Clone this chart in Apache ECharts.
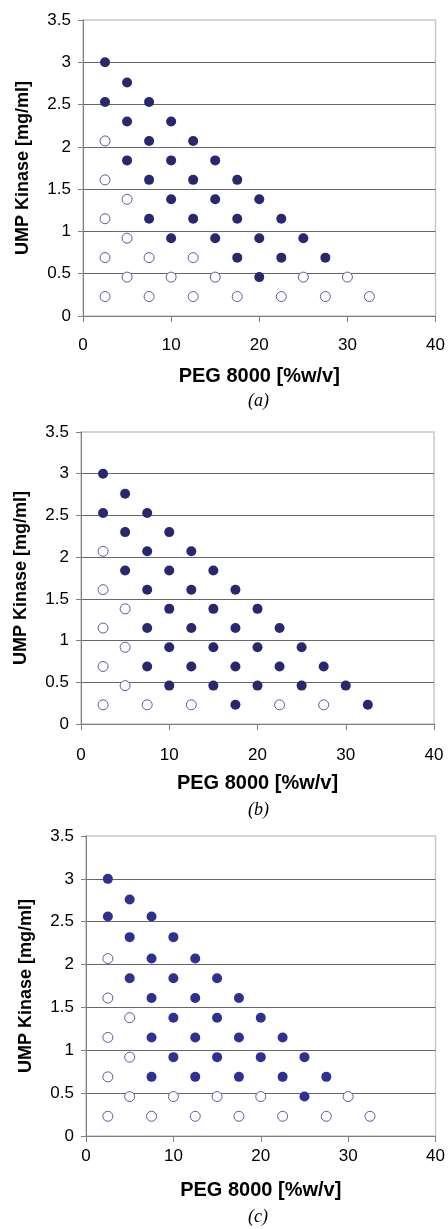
<!DOCTYPE html>
<html>
<head>
<meta charset="UTF-8">
<title>UMP Kinase / PEG 8000</title>
<script type="text/javascript" src="https://cdn.jsdelivr.net/npm/echarts@6/dist/echarts.min.js"></script>
<style>
  body{margin:0;background:#fff}
</style>
</head>
<body>
<div id="main" style="width:448px;height:1229px"></div>
<script type="text/javascript">
// x = PEG 8000 [%w/v], y = UMP Kinase [mg/ml]
var xTicks = [0, 10, 20, 30, 40];
var yTicks = [0, 0.5, 1, 1.5, 2, 2.5, 3, 3.5];
var captions = ['(a)', '(b)', '(c)'];

// panel (a)
var aFilled = [[2.5,3.0],[2.5,2.53],[5,2.76],[5,2.30],[5,1.84],[7.5,2.53],[7.5,2.07],[7.5,1.61],[7.5,1.15],
  [10,2.30],[10,1.84],[10,1.38],[10,0.92],[12.5,2.07],[12.5,1.61],[12.5,1.15],[15,1.84],[15,1.38],[15,0.92],
  [17.5,1.61],[17.5,1.15],[17.5,0.69],[20,1.38],[20,0.92],[20,0.46],[22.5,1.15],[22.5,0.69],[25,0.92],[27.5,0.69]];
var aOpen = [[2.5,2.07],[2.5,1.61],[2.5,1.15],[2.5,0.69],[2.5,0.23],[5,1.38],[5,0.92],[5,0.46],[7.5,0.69],[7.5,0.23],
  [10,0.46],[12.5,0.69],[12.5,0.23],[15,0.46],[17.5,0.23],[22.5,0.23],[25,0.46],[27.5,0.23],[30,0.46],[32.5,0.23]];

// panel (b)
var bFilled = [[2.5,3.0],[2.5,2.53],[5,2.76],[5,2.30],[5,1.84],[7.5,2.53],[7.5,2.07],[7.5,1.61],[7.5,1.15],[7.5,0.69],
  [10,2.30],[10,1.84],[10,1.38],[10,0.92],[10,0.46],[12.5,2.07],[12.5,1.61],[12.5,1.15],[12.5,0.69],
  [15,1.84],[15,1.38],[15,0.92],[15,0.46],[17.5,1.61],[17.5,1.15],[17.5,0.69],[17.5,0.23],[20,1.38],[20,0.92],[20,0.46],
  [22.5,1.15],[22.5,0.69],[25,0.92],[25,0.46],[27.5,0.69],[30,0.46],[32.5,0.23]];
var bOpen = [[2.5,2.07],[2.5,1.61],[2.5,1.15],[2.5,0.69],[2.5,0.23],[5,1.38],[5,0.92],[5,0.46],[7.5,0.23],
  [12.5,0.23],[22.5,0.23],[27.5,0.23]];

// panel (c)
var cFilled = [[2.5,3.0],[2.5,2.56],[5,2.76],[5,2.32],[5,1.84],[7.5,2.56],[7.5,2.07],[7.5,1.61],[7.5,1.15],[7.5,0.69],
  [10,2.32],[10,1.84],[10,1.38],[10,0.92],[12.5,2.07],[12.5,1.61],[12.5,1.15],[12.5,0.69],[15,1.84],[15,1.38],[15,0.92],
  [17.5,1.61],[17.5,1.15],[17.5,0.69],[20,1.38],[20,0.92],[22.5,1.15],[22.5,0.69],[25,0.92],[25,0.46],[27.5,0.69]];
var cOpen = [[2.5,2.07],[2.5,1.61],[2.5,1.15],[2.5,0.69],[2.5,0.23],[5,1.38],[5,0.92],[5,0.46],[7.5,0.23],[10,0.46],
  [12.5,0.23],[15,0.46],[17.5,0.23],[20,0.46],[22.5,0.23],[27.5,0.23],[30,0.46],[32.5,0.23]];

var grids = [
  {left: 83, right: 11, top: 20, bottom: 913},
  {left: 81, right: 14, top: 432, bottom: 505},
  {left: 86, right: 10, top: 836, bottom: 93}
];
var xLabelMargin = [21, 23, 12];
var xNameGap = [50, 49, 44];
var capY = [403, 812, 1219];
var fillColors = ['#29286e', '#29286e', '#2e3192'];

var font = 'Liberation Sans, Arial, sans-serif';

var myChart = echarts.init(document.getElementById('main'));

var option = {
  animation: false,
  grid: grids.map(function (g) {
    return {left: g.left, right: g.right, top: g.top, bottom: g.bottom,
      show: true, borderColor: '#c8c8c8', borderWidth: 1.5, backgroundColor: '#fff'};
  }),
  xAxis: grids.map(function (g, i) {
    return {
      type: 'value', gridIndex: i, min: xTicks[0], max: xTicks[xTicks.length - 1], interval: 10,
      name: 'PEG 8000 [%w/v]', nameLocation: 'middle', nameGap: xNameGap[i],
      nameTextStyle: {fontFamily: font, fontWeight: 'bold', fontSize: 20, color: '#000'},
      axisLine: {lineStyle: {color: '#808080', width: 1}},
      axisTick: {show: true, length: 6, lineStyle: {color: '#808080'}},
      axisLabel: {margin: xLabelMargin[i], fontFamily: font, fontSize: 17, color: '#000'},
      splitLine: {show: false}
    };
  }),
  yAxis: grids.map(function (g, i) {
    return {
      type: 'value', gridIndex: i, min: yTicks[0], max: yTicks[yTicks.length - 1], interval: 0.5,
      name: 'UMP Kinase [mg/ml]', nameLocation: 'middle', nameGap: 51, nameRotate: 90,
      nameTextStyle: {fontFamily: font, fontWeight: 'bold', fontSize: 18, color: '#000'},
      axisLine: {show: true, lineStyle: {color: '#808080', width: 1}},
      axisTick: {show: true, length: 5, lineStyle: {color: '#808080'}},
      axisLabel: {margin: 12, fontFamily: font, fontSize: 17, color: '#000'},
      splitLine: {show: true, showMinLine: false, showMaxLine: false, lineStyle: {color: '#666', width: 1}}
    };
  }),
  series: [],
  graphic: captions.map(function (t, i) {
    return {type: 'text', left: 248, top: capY[i] - 11,
      style: {text: t, fontFamily: 'Liberation Serif, Times New Roman, serif', fontStyle: 'italic', fontSize: 18, fill: '#000'}};
  })
};

var filledSets = [aFilled, bFilled, cFilled];
var openSets = [aOpen, bOpen, cOpen];
for (var i = 0; i < 3; i++) {
  option.series.push({
    type: 'scatter', xAxisIndex: i, yAxisIndex: i, data: filledSets[i],
    symbol: 'circle', symbolSize: 10, itemStyle: {color: fillColors[i], opacity: 1}
  });
  option.series.push({
    type: 'scatter', xAxisIndex: i, yAxisIndex: i, data: openSets[i],
    symbol: 'circle', symbolSize: 10,
    itemStyle: {color: '#fff', borderColor: '#5b5aa6', borderWidth: 1, opacity: 1}
  });
}

myChart.setOption(option);
</script>
</body>
</html>
